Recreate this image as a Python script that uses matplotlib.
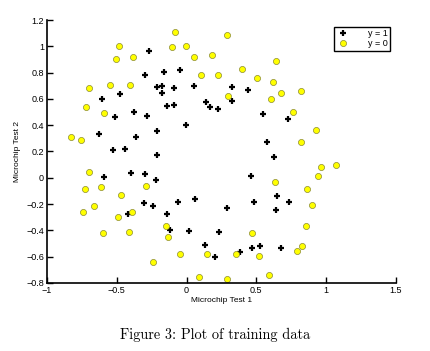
import numpy as np
import matplotlib.pyplot as plt

# microchip test results (test1, test2, accepted)
test1 = [0.051267, -0.092742, -0.21371, -0.375, -0.51325, -0.52477, -0.39804, -0.30588,
         0.016705, 0.13191, 0.38537, 0.52938, 0.63882, 0.73675, 0.54666, 0.322, 0.16647,
         -0.046659, -0.17339, -0.47869, -0.60541, -0.62846, -0.59389, -0.42108, -0.11578,
         0.20104, 0.46601, 0.67339, -0.13882, -0.29435, -0.26555, -0.16187, -0.17339,
         -0.28283, -0.36348, -0.30012, -0.23675, -0.06394, 0.062788, 0.22984, 0.2932,
         0.48329, 0.64459, 0.46025, 0.6273, 0.57546, 0.72523, 0.22408, 0.44297, 0.322,
         0.13767, -0.0063364, -0.092742, -0.20795, -0.20795, -0.43836, -0.21947, -0.13882,
         0.18376, 0.22408, 0.29896, 0.50634, 0.61578, 0.60426, 0.76555, 0.92684, 0.82316,
         0.96141, 0.93836, 0.86348, 0.89804, 0.85196, 0.82892, 0.79435, 0.59274, 0.51786,
         0.46601, 0.35081, 0.28744, 0.085829, 0.14919, -0.13306, -0.40956, -0.39228,
         -0.74366, -0.69758, -0.75518, -0.69758, -0.4038, -0.38076, -0.50749, -0.54781,
         0.10311, 0.057028, -0.10426, -0.081221, 0.28744, 0.39689, 0.63882, 0.82316,
         0.67339, 1.0709, -0.046659, -0.23675, -0.15035, -0.49021, -0.46717, -0.28859,
         -0.61118, -0.66302, -0.59965, -0.72638, -0.83007, -0.72062, -0.59389, -0.48445,
         -0.0063364, 0.63265]
test2 = [0.69956, 0.68494, 0.69225, 0.50219, 0.46564, 0.2098, 0.034357, -0.19225,
         -0.40424, -0.51389, -0.56506, -0.5212, -0.24342, -0.18494, 0.48757, 0.5826, 0.53874,
         0.81652, 0.69956, 0.63377, 0.59722, 0.33406, 0.005117, -0.27266, -0.39693,
         -0.60161, -0.53582, -0.53582, 0.54605, 0.77997, 0.96272, 0.8019, 0.64839,
         0.47295, 0.31213, 0.027047, -0.21418, -0.18494, -0.16301, -0.41155, -0.2288,
         -0.18494, -0.14108, 0.012427, 0.15863, 0.26827, 0.44371, 0.52412, 0.67032, 0.69225,
         0.57529, 0.39985, 0.55336, 0.35599, 0.17325, 0.21711, -0.016813, -0.27266,
         0.93348, 0.77997, 0.61915, 0.75804, 0.7288, 0.59722, 0.50219, 0.3633, 0.27558,
         0.085526, 0.012427, -0.082602, -0.20687, -0.36769, -0.5212, -0.55775, -0.7405, -0.5943,
         -0.41886, -0.57968, -0.76974, -0.75512, -0.57968, -0.4481, -0.41155, -0.25804,
         -0.25804, 0.041667, 0.2902, 0.68494, 0.70687, 0.91886, 0.90424, 0.70687,
         0.77997, 0.91886, 0.99196, 1.1089, 1.087, 0.82383, 0.88962, 0.66301,
         0.64108, 0.10015, -0.57968, -0.63816, -0.36769, -0.3019, -0.13377, -0.060673,
         -0.067982, -0.21418, -0.41886, -0.082602, 0.31213, 0.53874, 0.49488, 0.99927,
         0.99927, -0.030612]
accepted = [1] * 58 + [0] * 60

x = np.array(test1)
y = np.array(test2)
lab = np.array(accepted)

fig = plt.figure(figsize=(4.3, 3.51), dpi=100)
ax = fig.add_axes([0.109, 0.194, 0.812, 0.749])

ax.plot(x[lab == 1], y[lab == 1], "k+", markersize=5, markeredgewidth=1.6, label="y = 1")
ax.plot(x[lab == 0], y[lab == 0], "o", markerfacecolor="yellow", markeredgecolor="#8a8a30",
        markeredgewidth=0.5, markersize=4.4, label="y = 0")

ax.set_xlim(-1, 1.5)
ax.set_ylim(-0.8, 1.2)
ax.set_xticks([-1, -0.5, 0, 0.5, 1, 1.5])
ax.set_xticklabels(["\u22121", "\u22120.5", "0", "0.5", "1", "1.5"])
ax.set_yticks(np.arange(-0.8, 1.21, 0.2))
ax.set_yticklabels(["\u22120.8", "\u22120.6", "\u22120.4", "\u22120.2", "0", "0.2", "0.4",
                    "0.6", "0.8", "1", "1.2"])
ax.spines["top"].set_visible(False)
ax.spines["right"].set_visible(False)
ax.spines["left"].set_linewidth(1.2)
ax.spines["bottom"].set_linewidth(1.2)
ax.tick_params(direction="in", length=4, width=1, labelsize=6.5, pad=2)
for t in ax.get_xticklabels() + ax.get_yticklabels():
    t.set_family("Liberation Sans")

ax.set_xlabel("Microchip Test 1", fontsize=6, family="Liberation Sans", labelpad=2)
ax.set_ylabel("Microchip Test 2", fontsize=6, family="Liberation Sans", labelpad=4)

leg = ax.legend(loc="upper right", bbox_to_anchor=(0.995, 0.99),
                prop={"family": "Liberation Sans", "size": 6.5}, fancybox=False,
                framealpha=1, edgecolor="black", handlelength=1.5, handletextpad=2,
                borderpad=0.25, labelspacing=0.1)
leg.get_frame().set_linewidth(1.0)

fig.text(0.5, 0.045, "Figure 3: Plot of training data", ha="center", va="center",
         fontsize=10.3, family="cmr10")

fig.savefig("out.png", dpi=100)
